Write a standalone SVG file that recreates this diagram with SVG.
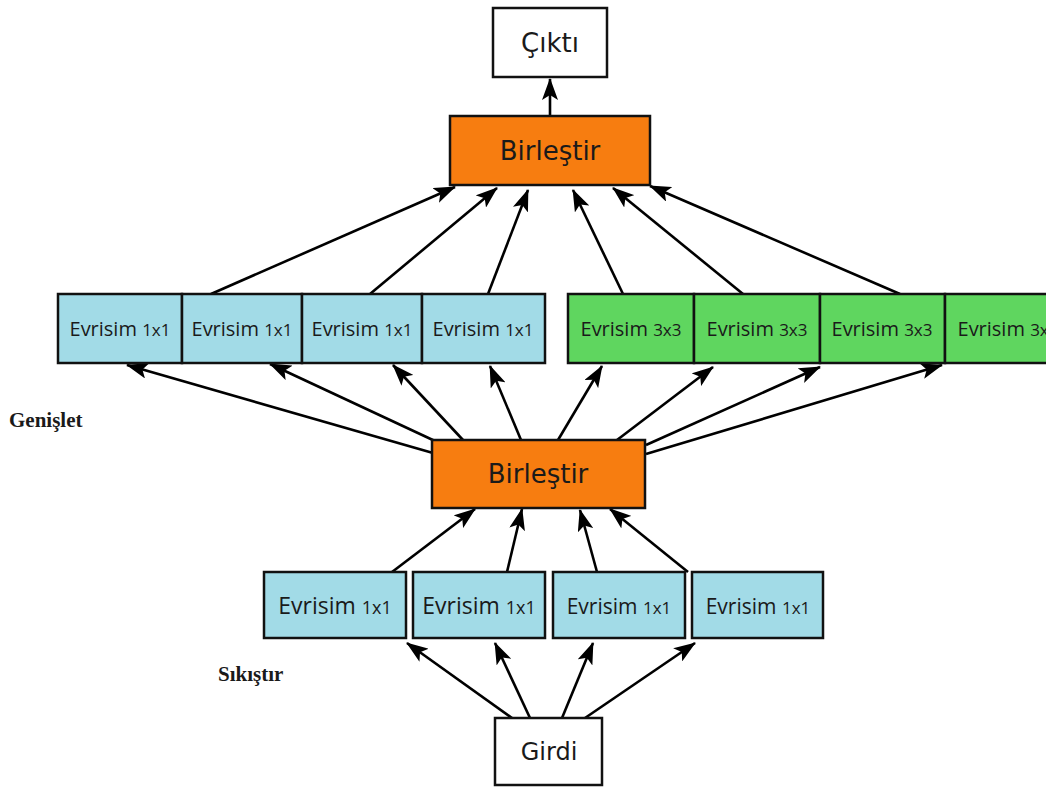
<svg xmlns="http://www.w3.org/2000/svg" width="1046" height="788" viewBox="0 0 1046 788">
<style>
.box{stroke:#111;stroke-width:2.5}
.white{fill:#fff}
.orange{fill:#f77d10}
.blue{fill:#a2dbe7}
.green{fill:#5fd65f}
.big{font-family:"DejaVu Sans",sans-serif;fill:#1a1a1a;text-anchor:middle}
.ev{font-family:"Open Sans","DejaVu Sans",sans-serif;fill:#1a1a1a;text-anchor:middle}
.lbl{font-family:"Liberation Serif",serif;font-weight:bold;font-size:21px;fill:#1a1a1a}
.conn path{fill:none;stroke:#000;stroke-width:2.6;marker-end:url(#ah)}
</style>
<defs>
<marker id="ah" markerUnits="userSpaceOnUse" viewBox="0 0 22 16" markerWidth="22" markerHeight="16" refX="21" refY="8" orient="auto">
<path d="M0,0 L22,8 L0,16 L5,8 z" fill="#000"/>
</marker>
</defs>
<rect width="1046" height="788" fill="#fff"/>

<g class="conn" id="connectors">
<path d="M550,115 L550,79"/>
<path d="M211,294 L455,187"/>
<path d="M370,294 L497,188"/>
<path d="M488,294 L528,190"/>
<path d="M623,294 L573,190"/>
<path d="M743,294 L613,188"/>
<path d="M900,294 L650,186"/>
<path d="M433,453 L127,365"/>
<path d="M435,441 L270,364"/>
<path d="M463,440 L393,365"/>
<path d="M521,440 L490,366"/>
<path d="M558,440 L602,366"/>
<path d="M617,440 L713,367"/>
<path d="M646,445 L820,367"/>
<path d="M646,454 L942,365"/>
<path d="M392,572 L475,509"/>
<path d="M507,572 L522,509"/>
<path d="M597,572 L580,510"/>
<path d="M688,572 L610,509"/>
<path d="M512,718 L407,643"/>
<path d="M530,718 L495,643"/>
<path d="M562,718 L593,643"/>
<path d="M585,718 L695,643"/>
</g>

<g id="cikti">
<rect class="box white" x="493" y="8" width="114" height="69"/>
<text class="big" x="550" y="52" font-size="26">Çıktı</text>
</g>
<g id="birlestir-top">
<rect class="box orange" x="450" y="116" width="200" height="69"/>
<text class="big" x="550" y="160" font-size="26">Birleştir</text>
</g>

<g id="e1x1-1"><rect class="box blue" x="58" y="294" width="124" height="69"/><text class="ev" x="120" y="336"><tspan font-size="20">Evrisim </tspan><tspan font-size="17">1x1</tspan></text></g>
<g id="e1x1-2"><rect class="box blue" x="182" y="294" width="120" height="69"/><text class="ev" x="242" y="336"><tspan font-size="20">Evrisim </tspan><tspan font-size="17">1x1</tspan></text></g>
<g id="e1x1-3"><rect class="box blue" x="302" y="294" width="120" height="69"/><text class="ev" x="362" y="336"><tspan font-size="20">Evrisim </tspan><tspan font-size="17">1x1</tspan></text></g>
<g id="e1x1-4"><rect class="box blue" x="422" y="294" width="123" height="69"/><text class="ev" x="483" y="336"><tspan font-size="20">Evrisim </tspan><tspan font-size="17">1x1</tspan></text></g>

<g id="e3x3-1"><rect class="box green" x="568" y="294" width="126" height="69"/><text class="ev" x="631" y="336"><tspan font-size="20">Evrisim </tspan><tspan font-size="17">3x3</tspan></text></g>
<g id="e3x3-2"><rect class="box green" x="694" y="294" width="126" height="69"/><text class="ev" x="757" y="336"><tspan font-size="20">Evrisim </tspan><tspan font-size="17">3x3</tspan></text></g>
<g id="e3x3-3"><rect class="box green" x="820" y="294" width="125" height="69"/><text class="ev" x="882" y="336"><tspan font-size="20">Evrisim </tspan><tspan font-size="17">3x3</tspan></text></g>
<g id="e3x3-4"><rect class="box green" x="945" y="294" width="120" height="69"/><text class="ev" x="1008" y="336"><tspan font-size="20">Evrisim </tspan><tspan font-size="17">3x3</tspan></text></g>

<g id="birlestir-mid">
<rect class="box orange" x="432" y="440" width="213" height="68"/>
<text class="big" x="538" y="483" font-size="26">Birleştir</text>
</g>

<g id="s1x1-1"><rect class="box blue" x="264" y="572" width="142" height="66"/><text class="ev" x="335" y="614"><tspan font-size="23">Evrisim </tspan><tspan font-size="18">1x1</tspan></text></g>
<g id="s1x1-2"><rect class="box blue" x="413" y="572" width="132" height="66"/><text class="ev" x="479" y="614"><tspan font-size="23">Evrisim </tspan><tspan font-size="18">1x1</tspan></text></g>
<g id="s1x1-3"><rect class="box blue" x="553" y="572" width="132" height="66"/><text class="ev" x="619" y="614"><tspan font-size="21">Evrisim </tspan><tspan font-size="17">1x1</tspan></text></g>
<g id="s1x1-4"><rect class="box blue" x="692" y="572" width="131" height="66"/><text class="ev" x="758" y="614"><tspan font-size="21">Evrisim </tspan><tspan font-size="17">1x1</tspan></text></g>

<g id="girdi">
<rect class="box white" x="495" y="718" width="107" height="67"/>
<text class="big" x="549" y="760" font-size="24">Girdi</text>
</g>

<text class="lbl" x="9" y="427">Genişlet</text>
<text class="lbl" x="218" y="681">Sıkıştır</text>
</svg>
